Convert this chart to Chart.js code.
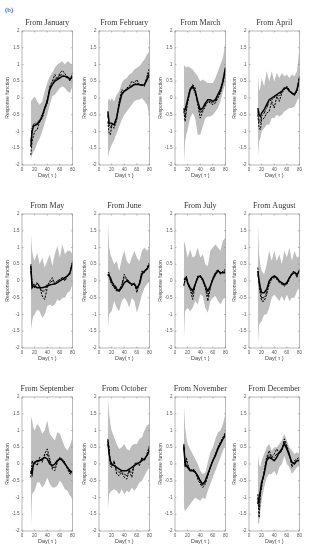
<!DOCTYPE html>
<html>
<head>
<meta charset="utf-8">
<script src="https://cdn.jsdelivr.net/npm/chart.js@4.4.0/dist/chart.umd.min.js"></script>
<style>
  body { margin: 0; background: #fff; }
  #wrap { position: relative; width: 309px; height: 550px; overflow: hidden; }
  #wrap canvas { position: absolute; }
  #tag { position: absolute; left: 5px; top: 6px; font: 7px "Liberation Serif", serif; color: #222; }
</style>
</head>
<body>
<div id="wrap"><div id="tag">(b)</div></div>
<script>
const MONTHS = ['January', 'February', 'March', 'April', 'May', 'June',
  'July', 'August', 'September', 'October', 'November', 'December'];
const DAYS = [14, 16, 18, 20, 24, 28, 32, 36, 40, 44, 48, 52, 56, 60, 64, 68, 72, 76, 80];
const X_TICKS = [0, 20, 40, 60, 80];
const Y_TICKS = [-2, -1.5, -1, -0.5, 0, 0.5, 1, 1.5, 2];

// grey band, upper edge (one row per month)
const UPPER = [
  [-0.1, -0.05, 0.0, 0.05, -0.1, -0.2, -0.1, 0.2, 0.45, 0.65, 0.75, 0.9, 1.0, 1.05, 1.1, 1.0, 1.1, 1.05, 0.95],
  [-0.1, 0.0, -0.1, 0.0, -0.1, 0.1, 0.2, 0.45, 0.55, 0.6, 0.7, 0.75, 0.85, 0.9, 0.95, 1.05, 1.15, 1.3, 1.4],
  [1.0, 0.95, 0.9, 0.95, 0.9, 0.85, 0.75, 0.65, 0.5, 0.55, 0.5, 0.45, 0.45, 0.45, 0.6, 0.8, 1.0, 1.2, 1.7],
  [0.75, 0.2, 0.3, 0.6, 0.35, 0.8, 0.5, 0.8, 0.5, 0.75, 0.6, 0.75, 0.65, 0.7, 0.6, 0.7, 0.65, 0.8, 1.5],
  [1.45, 0.9, 0.7, 0.6, 0.85, 0.5, 0.7, 0.4, 0.6, 0.8, 0.45, 0.8, 1.05, 0.7, 1.1, 0.8, 0.9, 0.9, 0.8],
  [1.8, 1.0, 0.8, 0.7, 0.5, 0.6, 0.3, 0.65, 0.9, 0.6, 0.5, 0.7, 0.9, 0.7, 0.6, 0.9, 1.0, 0.9, 1.0],
  [1.2, 1.1, 0.9, 0.7, 0.95, 0.7, 0.75, 1.0, 0.7, 0.8, 0.5, 0.45, 0.9, 1.0, 1.1, 1.0, 0.9, 1.2, 1.3],
  [1.8, 0.8, 0.5, 0.3, 0.2, 0.5, 0.9, 0.6, 0.9, 0.6, 0.8, 0.5, 0.9, 0.7, 1.0, 0.6, 0.9, 0.7, 0.75],
  [1.45, 1.3, 1.1, 1.0, 1.2, 1.1, 0.9, 1.0, 1.3, 0.9, 0.8, 0.7, 0.95, 0.9, 0.7, 0.5, 0.4, 0.55, 0.8],
  [2.0, 1.5, 1.2, 1.0, 0.8, 0.6, 0.45, 0.5, 0.6, 0.45, 0.4, 0.55, 0.6, 0.6, 0.75, 0.8, 1.0, 1.15, 1.2],
  [1.8, 1.1, 0.8, 0.6, 0.45, 0.3, 0.15, 0.0, -0.2, -0.3, -0.25, 0.05, 0.35, 0.5, 0.75, 0.95, 1.0, 1.2, 1.5],
  [0.3, 0.0, -0.1, 0.1, 0.3, 0.5, 0.6, 0.4, 0.5, 0.5, 0.6, 0.7, 0.9, 0.7, 0.5, 0.4, 0.3, 0.35, 0.3]
];

// grey band, lower edge
const LOWER = [
  [-1.8, -1.7, -1.6, -1.55, -1.35, -1.2, -1.0, -0.75, -0.5, -0.2, 0.05, 0.1, 0.2, 0.3, 0.35, 0.3, 0.2, 0.15, 0.35],
  [-1.8, -1.6, -1.5, -1.4, -1.25, -1.05, -0.85, -0.65, -0.5, -0.4, -0.3, -0.2, -0.1, -0.05, -0.05, 0.0, -0.1, -0.2, -0.55],
  [-2.0, -1.3, -1.1, -0.95, -0.6, -0.45, -0.6, -1.1, -1.1, -0.85, -0.6, -0.55, -0.55, -0.5, -0.4, -0.3, -0.1, 0.2, 0.45],
  [-1.8, -1.3, -1.2, -1.0, -0.9, -0.8, -0.8, -0.6, -0.6, -0.5, -0.55, -0.5, -0.4, -0.35, -0.3, -0.3, -0.25, -0.1, 0.1],
  [-1.5, -1.2, -1.05, -1.0, -0.85, -0.9, -1.1, -1.0, -0.75, -0.7, -0.75, -0.7, -0.55, -0.6, -0.5, -0.5, -0.35, -0.3, -0.1],
  [-1.4, -1.0, -0.95, -0.9, -0.6, -0.8, -0.9, -0.6, -0.5, -0.6, -0.8, -0.5, -0.6, -0.95, -0.7, -0.4, -0.2, -0.1, 0.0],
  [-1.75, -0.9, -0.85, -0.8, -0.9, -0.8, -0.6, -0.7, -0.4, -0.45, -0.8, -0.95, -0.6, -0.5, -0.45, -0.6, -0.7, -0.55, -0.45],
  [-1.9, -1.3, -1.25, -1.2, -1.0, -1.0, -0.8, -0.5, -0.4, -0.5, -0.6, -0.45, -0.6, -0.4, -0.6, -0.5, -0.5, -0.3, -0.2],
  [-2.0, -0.9, -0.85, -0.8, -0.55, -0.55, -0.7, -0.6, -0.4, -0.6, -0.7, -0.7, -0.65, -0.5, -0.6, -0.75, -0.8, -0.95, -1.0],
  [-1.4, -0.9, -0.85, -0.8, -0.75, -0.8, -0.9, -0.75, -0.9, -0.8, -0.85, -0.7, -0.8, -0.7, -0.55, -0.5, -0.35, -0.2, -0.1],
  [-1.3, -1.4, -1.35, -1.3, -1.2, -1.1, -1.0, -1.05, -1.1, -1.0, -1.05, -0.8, -0.6, -0.4, -0.2, 0.0, 0.2, 0.4, 0.6],
  [-1.8, -1.75, -1.4, -1.1, -0.7, -0.4, -0.3, -0.3, -0.2, -0.35, -0.1, 0.0, 0.25, 0.0, -0.1, -0.3, -0.2, -0.1, -0.05]
];

// solid line
const SOLID = [
  [-1.45, -1.0, -0.85, -0.82, -0.78, -0.7, -0.55, -0.3, -0.1, 0.25, 0.4, 0.5, 0.55, 0.6, 0.65, 0.65, 0.62, 0.58, 0.6],
  [-0.4, -0.75, -0.75, -0.75, -0.8, -0.6, -0.2, 0.1, 0.2, 0.25, 0.3, 0.35, 0.4, 0.4, 0.4, 0.38, 0.4, 0.55, 0.7],
  [-0.35, -0.35, -0.2, -0.05, 0.25, 0.35, 0.2, -0.1, -0.35, -0.3, -0.15, -0.05, -0.05, -0.1, -0.05, 0.1, 0.25, 0.5, 0.9],
  [-0.3, -0.5, -0.55, -0.45, -0.35, -0.2, -0.05, 0.0, 0.05, 0.1, 0.15, 0.2, 0.3, 0.3, 0.2, 0.15, 0.1, 0.25, 0.6],
  [0.45, -0.2, -0.15, -0.15, -0.2, -0.2, -0.2, -0.18, -0.15, -0.12, -0.1, -0.08, -0.05, 0.0, 0.05, 0.1, 0.15, 0.25, 0.55],
  [0.2, 0.15, 0.1, 0.0, -0.15, -0.25, -0.3, -0.2, -0.05, 0.0, -0.05, -0.1, -0.1, -0.2, -0.1, 0.2, 0.3, 0.35, 0.5],
  [0.05, 0.05, 0.1, -0.05, -0.2, -0.3, -0.1, 0.1, 0.15, 0.05, -0.15, -0.3, -0.15, 0.05, 0.2, 0.3, 0.25, 0.25, 0.25],
  [0.3, 0.0, -0.2, -0.35, -0.35, -0.25, 0.0, 0.1, 0.15, 0.1, 0.0, -0.05, -0.1, -0.05, 0.1, 0.2, 0.25, 0.2, 0.3],
  [-0.2, -0.3, 0.0, 0.05, 0.1, 0.1, 0.15, 0.2, 0.15, 0.0, -0.05, 0.0, 0.1, 0.15, 0.1, 0.0, -0.1, -0.2, -0.25],
  [0.7, 0.3, 0.1, 0.0, -0.05, -0.1, -0.15, -0.2, -0.2, -0.2, -0.15, -0.1, -0.05, 0.0, 0.05, 0.1, 0.15, 0.25, 0.4],
  [0.55, 0.0, -0.05, -0.1, -0.2, -0.2, -0.25, -0.35, -0.5, -0.6, -0.5, -0.3, -0.1, 0.1, 0.25, 0.45, 0.6, 0.75, 0.85],
  [-1.2, -1.0, -0.8, -0.55, -0.3, 0.1, 0.2, 0.15, 0.1, 0.2, 0.35, 0.45, 0.6, 0.45, 0.25, 0.05, 0.0, 0.1, 0.1]
];

// dashed line
const DASHED = [
  [-1.7, -1.3, -1.15, -1.0, -0.95, -0.7, -0.6, -0.35, -0.15, 0.35, 0.5, 0.7, 0.55, 0.75, 0.82, 0.72, 0.65, 0.5, 0.75],
  [-0.7, -1.05, -1.1, -0.85, -0.9, -0.65, -0.1, 0.25, 0.2, 0.3, 0.35, 0.5, 0.45, 0.55, 0.38, 0.4, 0.35, 0.65, 0.9],
  [-0.4, -0.7, -0.4, -0.15, 0.2, 0.4, 0.3, -0.2, -0.6, -0.4, -0.25, -0.1, -0.15, -0.2, -0.15, 0.0, 0.15, 0.45, 0.8],
  [-0.5, -0.9, -0.95, -0.65, -0.6, -0.45, -0.4, -0.1, -0.3, 0.05, -0.1, 0.15, 0.25, 0.35, 0.25, 0.15, 0.1, 0.2, 0.65],
  [0.5, -0.1, -0.1, -0.2, -0.05, -0.15, -0.45, -0.55, -0.2, 0.0, 0.1, -0.1, -0.05, 0.05, 0.1, 0.0, 0.15, 0.2, 0.6],
  [0.25, 0.25, 0.0, -0.1, -0.2, -0.3, -0.3, -0.15, 0.2, 0.05, -0.05, -0.15, -0.05, -0.35, -0.05, 0.3, 0.25, 0.4, 0.55],
  [-0.15, 0.1, 0.15, -0.1, -0.25, -0.55, -0.1, 0.15, 0.15, 0.0, -0.2, -0.6, -0.2, 0.1, 0.25, 0.35, 0.2, 0.3, 0.35],
  [0.4, -0.1, -0.4, -0.6, -0.6, -0.4, -0.1, 0.05, 0.1, 0.05, -0.05, -0.1, -0.15, -0.1, 0.05, 0.25, 0.3, 0.1, 0.35],
  [-0.4, 0.1, 0.0, 0.05, -0.05, 0.2, 0.05, 0.3, 0.45, 0.15, -0.15, -0.2, 0.05, 0.2, 0.15, 0.05, -0.15, -0.3, -0.3],
  [0.75, 0.5, -0.05, -0.1, 0.1, -0.3, -0.35, -0.25, -0.4, -0.45, -0.2, -0.4, 0.0, 0.05, -0.05, 0.2, 0.1, 0.3, 0.55],
  [0.6, -0.1, 0.2, 0.0, -0.2, -0.15, -0.2, -0.45, -0.6, -0.7, -0.6, -0.35, -0.1, 0.1, 0.3, 0.5, 0.65, 0.8, 0.95],
  [-0.9, -1.6, -0.9, -0.7, -0.2, 0.2, 0.4, 0.2, 0.3, 0.45, 0.3, 0.4, 0.75, 0.55, 0.3, -0.1, 0.1, 0.15, 0.2]
];

// dash-dot line
const DASHDOT = [
  [-1.3, -0.9, -0.8, -0.75, -0.75, -0.65, -0.5, -0.3, -0.05, 0.3, 0.45, 0.55, 0.6, 0.68, 0.7, 0.65, 0.6, 0.55, 0.65],
  [-0.5, -0.8, -0.9, -0.8, -0.8, -0.55, -0.15, 0.15, 0.2, 0.25, 0.3, 0.4, 0.4, 0.45, 0.4, 0.38, 0.38, 0.6, 0.8],
  [-0.3, -0.55, -0.3, -0.1, 0.3, 0.3, 0.15, -0.15, -0.45, -0.35, -0.2, -0.1, -0.1, -0.15, -0.1, 0.05, 0.2, 0.55, 0.95],
  [-0.4, -0.7, -0.75, -0.55, -0.45, -0.3, -0.1, -0.05, 0.0, 0.1, 0.05, 0.2, 0.25, 0.32, 0.22, 0.12, 0.08, 0.22, 0.6],
  [0.3, -0.15, -0.1, -0.1, -0.05, -0.2, -0.3, -0.3, -0.1, -0.05, 0.0, -0.05, 0.0, 0.05, 0.1, 0.05, 0.15, 0.25, 0.5],
  [0.15, 0.2, 0.05, -0.05, -0.1, -0.2, -0.28, -0.1, 0.1, 0.05, 0.0, -0.1, -0.08, -0.25, -0.08, 0.25, 0.28, 0.38, 0.5],
  [-0.1, 0.0, 0.1, -0.05, -0.25, -0.4, -0.12, 0.12, 0.15, 0.02, -0.18, -0.45, -0.18, 0.08, 0.22, 0.32, 0.22, 0.28, 0.3],
  [0.2, -0.05, -0.3, -0.5, -0.5, -0.35, -0.05, 0.1, 0.12, 0.08, -0.02, -0.08, -0.12, -0.08, 0.08, 0.22, 0.28, 0.15, 0.32],
  [-0.3, -0.1, -0.05, 0.05, 0.05, 0.15, 0.1, 0.25, 0.3, 0.08, -0.1, -0.1, 0.08, 0.18, 0.12, 0.02, -0.12, -0.25, -0.28],
  [0.6, 0.35, 0.05, -0.05, 0.05, -0.2, -0.25, -0.22, -0.3, -0.35, -0.18, -0.25, -0.02, 0.02, 0.0, 0.15, 0.12, 0.28, 0.5],
  [0.5, 0.05, 0.1, -0.05, -0.18, -0.18, -0.22, -0.4, -0.55, -0.65, -0.55, -0.32, -0.1, 0.1, 0.28, 0.48, 0.62, 0.78, 0.9],
  [-1.0, -1.3, -0.85, -0.6, -0.25, 0.15, 0.3, 0.18, 0.2, 0.3, 0.32, 0.42, 0.68, 0.5, 0.28, -0.02, 0.05, 0.12, 0.15]
];

// panel geometry (plot area of each small chart)
const COL_LEFT = [22, 99, 175, 249];
const ROW_TOP = [31, 214, 397];
const PLOT_W = 51, PLOT_H = 134;
const AXIS_W = 22, TITLE_H = 22, XAXIS_H = 15, RIGHT_PAD = 4;

const tickFont = { family: '"Liberation Sans", sans-serif', size: 4.5 };

// box around plot, MATLAB-like inward ticks, and the panel title
const framePlugin = {
  id: 'frame',
  afterDraw(chart, args, opts) {
    const { ctx, chartArea: a, scales: { x, y } } = chart;
    ctx.save();
    ctx.strokeStyle = '#888';
    ctx.lineWidth = 0.6;
    ctx.strokeRect(a.left, a.top, a.right - a.left, a.bottom - a.top);
    ctx.beginPath();
    x.ticks.forEach(t => {
      const px = x.getPixelForValue(t.value);
      ctx.moveTo(px, a.bottom); ctx.lineTo(px, a.bottom - 1.5);
      ctx.moveTo(px, a.top); ctx.lineTo(px, a.top + 1.5);
    });
    y.ticks.forEach(t => {
      const py = y.getPixelForValue(t.value);
      ctx.moveTo(a.left, py); ctx.lineTo(a.left + 1.5, py);
      ctx.moveTo(a.right, py); ctx.lineTo(a.right - 1.5, py);
    });
    ctx.stroke();
    ctx.fillStyle = '#333';
    ctx.font = '8px "Liberation Serif", serif';
    ctx.textAlign = 'center';
    ctx.fillText(opts.text, (a.left + a.right) / 2, a.top - 6);
    ctx.restore();
  }
};

function pts(arr) {
  return DAYS.map((d, i) => ({ x: d, y: arr[i] }));
}

function makePanel(m) {
  const r = Math.floor(m / 4), c = m % 4;
  const canvas = document.createElement('canvas');
  const w = AXIS_W + PLOT_W + RIGHT_PAD;
  const h = TITLE_H + PLOT_H + XAXIS_H;
  canvas.width = w;
  canvas.height = h;
  canvas.style.width = w + 'px';
  canvas.style.height = h + 'px';
  canvas.style.left = (COL_LEFT[c] - AXIS_W) + 'px';
  canvas.style.top = (ROW_TOP[r] - TITLE_H) + 'px';
  document.getElementById('wrap').appendChild(canvas);

  const line = { pointRadius: 0, fill: false, borderColor: '#000', tension: 0, order: 1 };

  new Chart(canvas.getContext('2d'), {
    type: 'line',
    data: {
      datasets: [
        { data: pts(UPPER[m]), borderWidth: 0, pointRadius: 0, fill: '+1', backgroundColor: '#bebebe', order: 3 },
        { data: pts(LOWER[m]), borderWidth: 0, pointRadius: 0, fill: false, order: 3 },
        { ...line, data: pts(DASHDOT[m]), borderWidth: 1, borderDash: [4, 1.2, 1, 1.2] },
        { ...line, data: pts(DASHED[m]), borderWidth: 1, borderDash: [2.2, 1.2] },
        { ...line, data: pts(SOLID[m]), borderWidth: 1.5 }
      ]
    },
    options: {
      responsive: false,
      animation: false,
      devicePixelRatio: 1,
      events: [],
      layout: { padding: { top: TITLE_H, right: RIGHT_PAD, left: 0, bottom: 0 } },
      scales: {
        x: {
          type: 'linear', min: 0, max: 80,
          afterBuildTicks: s => { s.ticks = X_TICKS.map(v => ({ value: v })); },
          afterFit: s => { s.height = XAXIS_H; },
          grid: { display: false, drawTicks: false },
          border: { display: false },
          ticks: { font: tickFont, color: '#555', padding: 2, maxRotation: 0, autoSkip: false,
            callback: v => String(v) },
          title: { display: true, text: 'Day( τ )', color: '#444',
            font: { family: '"Liberation Sans", sans-serif', size: 5.5 }, padding: { top: 0, bottom: 1 } }
        },
        y: {
          min: -2, max: 2,
          afterBuildTicks: s => { s.ticks = Y_TICKS.map(v => ({ value: v })); },
          afterFit: s => { s.width = AXIS_W; },
          grid: { display: false, drawTicks: false },
          border: { display: false },
          ticks: { font: tickFont, color: '#555', padding: 2.5, autoSkip: false,
            callback: v => String(v) },
          title: { display: true, text: 'Response function', color: '#444',
            font: { family: '"Liberation Sans", sans-serif', size: 5 }, padding: { top: 5, bottom: 0 } }
        }
      },
      plugins: {
        legend: { display: false },
        tooltip: { enabled: false },
        frame: { text: 'From ' + MONTHS[m] }
      }
    },
    plugins: [framePlugin]
  });
}

MONTHS.forEach((name, m) => makePanel(m));
</script>
</body>
</html>
